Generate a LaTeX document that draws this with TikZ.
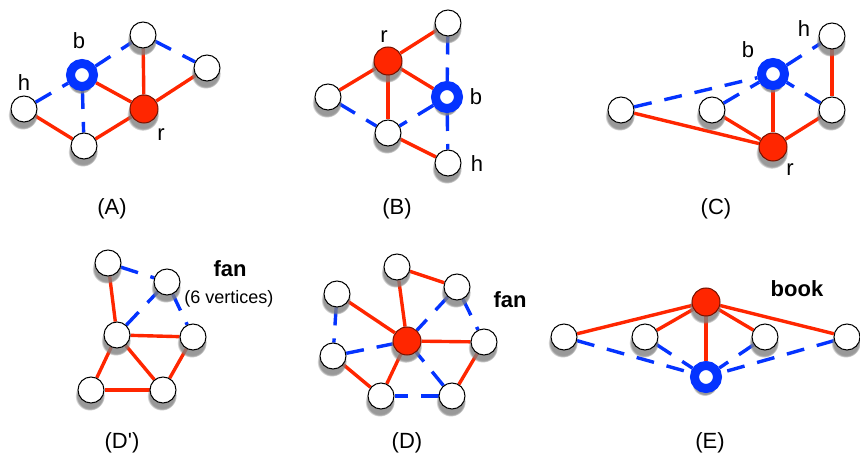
\documentclass[tikz,border=0pt]{standalone}
\usepackage{fontspec}
\setmainfont{Liberation Sans}
\usetikzlibrary{shadows,backgrounds}
\definecolor{gred}{RGB}{255,38,0}
\definecolor{gblue}{RGB}{4,51,255}
\tikzset{
  shad/.style={circular drop shadow={shadow xshift=-1pt, shadow yshift=-5pt, shadow scale=1.15, opacity=0.8}},
  vtx/.style={circle, draw=black, line width=1pt, fill=white, minimum size=26pt, inner sep=0pt, shad},
  rvtx/.style={vtx, fill=gred, draw=black!55!gred, minimum size=28pt},
  bvtx/.style={circle, draw=gblue, line width=9pt, fill=white, minimum size=23pt, inner sep=0pt, shad},
  redge/.style={draw=gred, line width=3.4pt},
  bedge/.style={draw=gblue, line width=3.4pt, dash pattern=on 18pt off 13pt},
  lbl/.style={font=\fontsize{22pt}{24pt}\selectfont, anchor=base, inner sep=0pt},
  lblb/.style={lbl, font=\fontsize{22pt}{24pt}\selectfont\bfseries},
  lbls/.style={lbl, font=\fontsize{18pt}{20pt}\selectfont},
}
\begin{document}
\begin{tikzpicture}[x=1pt,y=-1pt]
\useasboundingbox (0,0) rectangle (860,457);
% ---------- (A) ----------
\node[bvtx] (Ab) at (82,75) {};
\node[vtx] (At) at (143,35) {};
\node[vtx] (Aright) at (207,68) {};
\node[vtx] (Ah) at (24,109) {};
\node[rvtx] (Ar) at (144,109) {};
\node[vtx] (Abot) at (84,146) {};
\node[lbl] (Lab) at (79,49) {b};
\node[lbl] (Lah) at (24,91) {h};
\node[lbl] (Lar) at (161,141) {r};
\node[lbl] (LA) at (112,215) {(A)};
% ---------- (B) ----------
\node[rvtx] (Br) at (388,61) {};
\node[vtx] (Btop) at (448,23) {};
\node[vtx] (Bleft) at (328,97) {};
\node[bvtx] (Bb) at (447,97) {};
\node[vtx] (Bbot) at (388,133) {};
\node[vtx] (Bh) at (448,163) {};
\node[lbl] (Lbr) at (384,43) {r};
\node[lbl] (Lbb) at (476,105) {b};
\node[lbl] (Lbh) at (477,172) {h};
\node[lbl] (LB) at (397,215) {(B)};
% ---------- (C) ----------
\node[vtx] (Ch) at (832,36) {};
\node[bvtx] (Cb) at (773,74) {};
\node[vtx] (Cleft) at (621,110) {};
\node[vtx] (Cmid) at (712,110) {};
\node[vtx] (Cright) at (832,110) {};
\node[rvtx] (Cr) at (773,147) {};
\node[lbl] (Lch) at (804,37) {h};
\node[lbl] (Lcb) at (748,58) {b};
\node[lbl] (Lcr) at (790,176) {r};
\node[lbl] (LC) at (716,215) {(C)};
% ---------- (D') ----------
\node[vtx] (Pa) at (108,263) {};
\node[vtx] (Pb) at (167,282) {};
\node[vtx] (Pc) at (117,335) {};
\node[vtx] (Pd) at (193,337) {};
\node[vtx] (Pe) at (91,390) {};
\node[vtx] (Pf) at (163,390) {};
\node[lblb] (Lpfan) at (230,277) {fan};
\node[lbls] (Lpsix) at (229,304) {(6 vertices)};
\node[lbl] (LDp) at (122,448) {(D\textquotesingle)};
% ---------- (D) ----------
\node[rvtx] (Dc) at (407,341) {};
\node[vtx] (Dt) at (397,267) {};
\node[vtx] (Dtr) at (457,287) {};
\node[vtx] (Dlt) at (337,294) {};
\node[vtx] (Dr) at (484,342) {};
\node[vtx] (Dl) at (333,356) {};
\node[vtx] (Dbl) at (381,396) {};
\node[vtx] (Dbr) at (452,396) {};
\node[lblb] (Ldfan) at (510,308) {fan};
\node[lbl] (LD) at (407,448) {(D)};
% ---------- (E) ----------
\node[rvtx] (Et) at (706,302) {};
\node[vtx] (E1) at (564,337) {};
\node[vtx] (E2) at (645,337) {};
\node[vtx] (E3) at (765,337) {};
\node[vtx] (E4) at (847,337) {};
\node[bvtx] (Eb) at (706,377) {};
\node[lblb] (Lebook) at (797,297) {book};
\node[lbl] (LE) at (710,448) {(E)};
% ---------- edges ----------
\begin{pgfonlayer}{background}
% A
\draw[redge] (Ah) -- (Abot);
\draw[redge] (Abot) -- (Ar);
\draw[redge] (Ar) -- (Ab);
\draw[redge] (Ar) -- (At);
\draw[redge] (Ar) -- (Aright);
\draw[bedge] (Ah) -- (Ab);
\draw[bedge] (Ab) -- (Abot);
\draw[bedge] (Ab) -- (At);
\draw[bedge] (At) -- (Aright);
% B
\draw[redge] (Br) -- (Btop);
\draw[redge] (Br) -- (Bleft);
\draw[redge] (Br) -- (Bb);
\draw[redge] (Br) -- (Bbot);
\draw[redge] (Bbot) -- (Bh);
\draw[bedge] (Btop) -- (Bb);
\draw[bedge] (Bb) -- (Bh);
\draw[bedge] (Bb) -- (Bbot);
\draw[bedge] (Bleft) -- (Bbot);
% C
\draw[redge] (Ch) -- (Cright);
\draw[redge] (Cright) -- (Cr);
\draw[redge] (Cr) -- (Cb);
\draw[redge] (Cr) -- (Cmid);
\draw[redge] (Cr) -- (Cleft);
\draw[bedge] (Cb) -- (Ch);
\draw[bedge] (Cleft) -- (Cb);
\draw[bedge] (Cmid) -- (Cb);
\draw[bedge] (Cright) -- (Cb);
% D'
\draw[redge] (Pa) -- (Pc);
\draw[redge] (Pc) -- (Pd);
\draw[redge] (Pc) -- (Pe);
\draw[redge] (Pc) -- (Pf);
\draw[redge] (Pe) -- (Pf);
\draw[redge] (Pf) -- (Pd);
\draw[bedge] (Pa) -- (Pb);
\draw[bedge] (Pc) -- (Pb);
\draw[bedge] (Pb) -- (Pd);
% D
\draw[redge] (Dc) -- (Dt);
\draw[redge] (Dc) -- (Dlt);
\draw[redge] (Dc) -- (Dr);
\draw[redge] (Dc) -- (Dbl);
\draw[redge] (Dt) -- (Dtr);
\draw[redge] (Dl) -- (Dbl);
\draw[redge] (Dr) -- (Dbr);
\draw[bedge] (Dtr) -- (Dc);
\draw[bedge] (Dl) -- (Dc);
\draw[bedge] (Dbr) -- (Dc);
\draw[bedge] (Dlt) -- (Dl);
\draw[bedge] (Dbr) -- (Dbl);
\draw[bedge] (Dtr) -- (Dr);
% E
\draw[redge] (Et) -- (E1);
\draw[redge] (Et) -- (E2);
\draw[redge] (Et) -- (E3);
\draw[redge] (Et) -- (E4);
\draw[redge] (Et) -- (Eb);
\draw[bedge] (E1) -- (Eb);
\draw[bedge] (E2) -- (Eb);
\draw[bedge] (E3) -- (Eb);
\draw[bedge] (E4) -- (Eb);
\end{pgfonlayer}
\end{tikzpicture}
\end{document}
